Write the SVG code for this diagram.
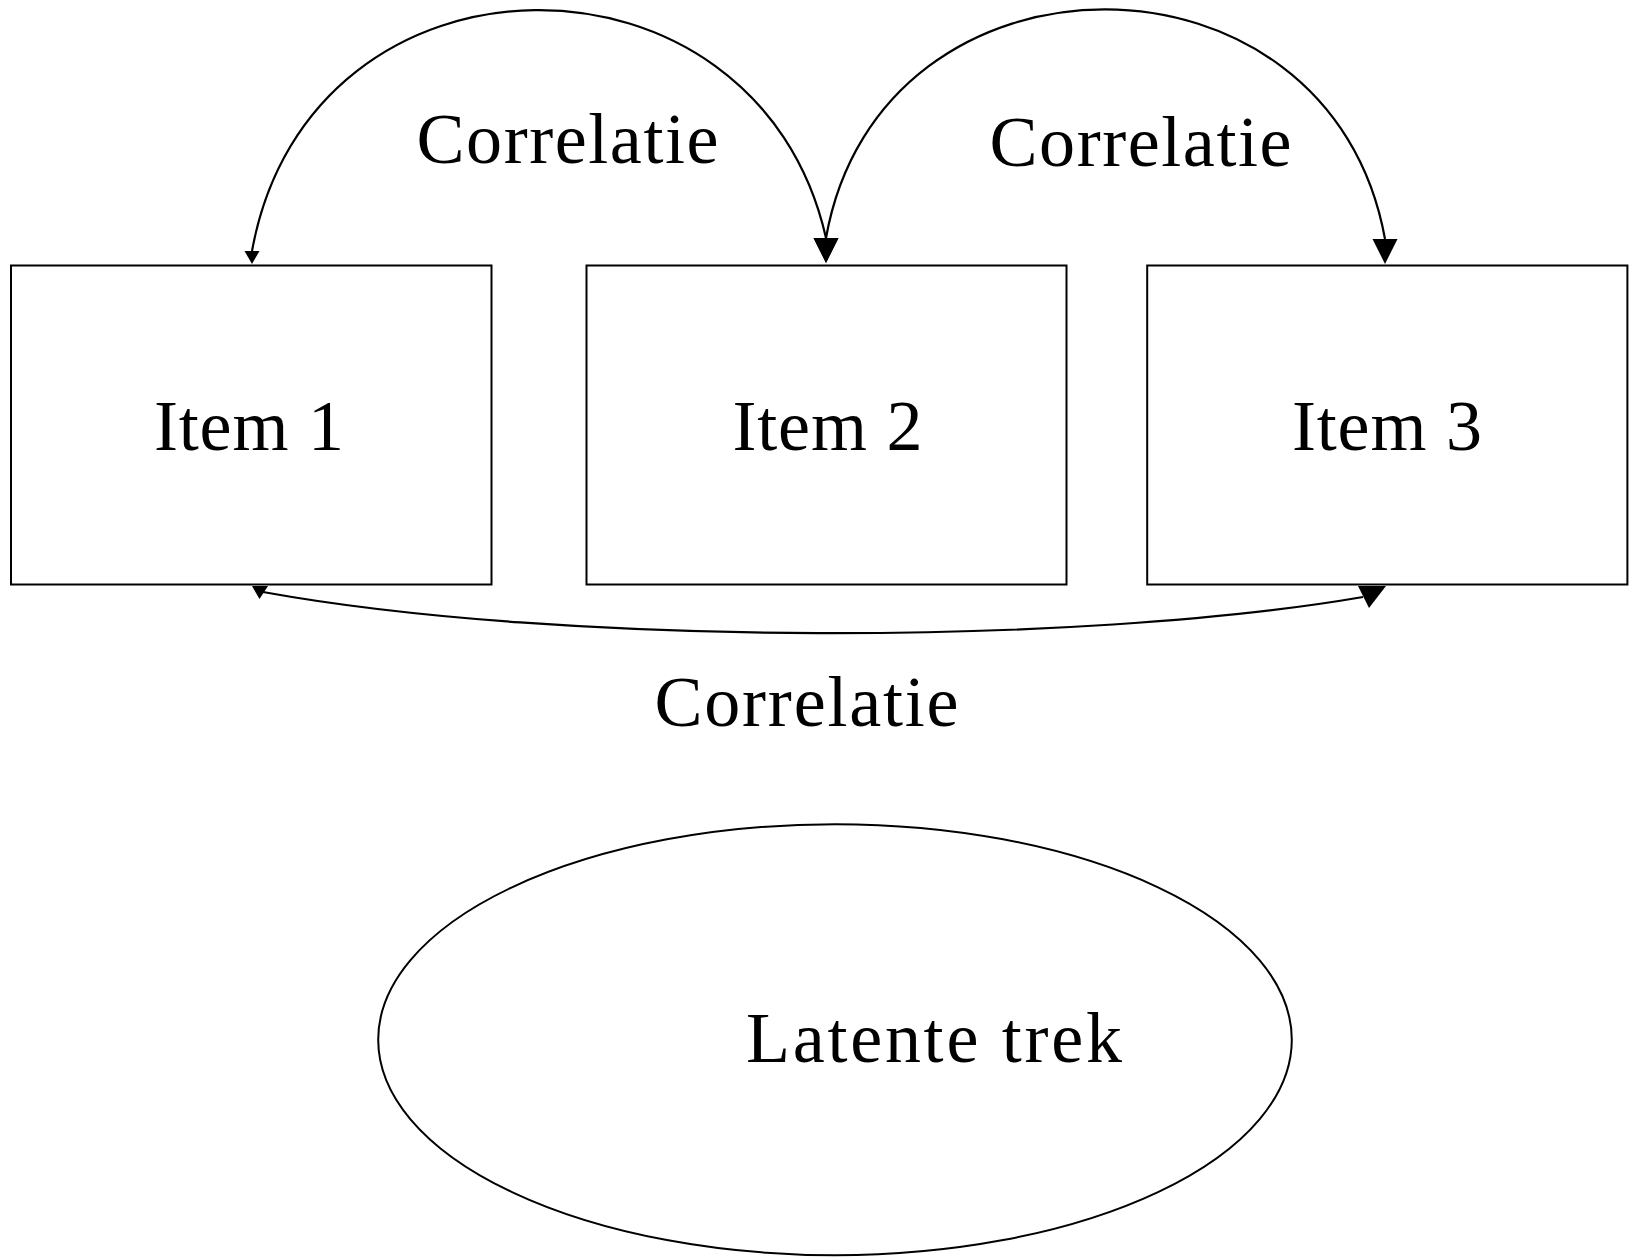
<svg xmlns="http://www.w3.org/2000/svg" width="1634" height="1257" viewBox="0 0 1634 1257">
  <style>
    .box { fill: #ffffff; stroke: #000000; stroke-width: 2; }
    .oval { fill: #ffffff; stroke: #000000; stroke-width: 2; }
    .label { font-family: "Liberation Serif", "DejaVu Serif", serif; font-size: 72px; fill: #000000; }
    .mid { text-anchor: middle; }
    .edge { fill: none; stroke: #000000; stroke-width: 2.2; }
    .head { fill: #000000; stroke: none; }
  </style>
  <defs>
    <!-- arrowheads always point downward; ref point is where the curve meets them -->
    <marker id="head-sm-top" markerUnits="userSpaceOnUse" markerWidth="15" markerHeight="13" viewBox="0 0 15 13" refX="7.5" refY="0" orient="0" overflow="visible">
      <path class="head" d="M0,0 L15,0 L7.5,13 Z"/>
    </marker>
    <marker id="head-lg-top" markerUnits="userSpaceOnUse" markerWidth="25" markerHeight="25" viewBox="0 0 25 25" refX="12.5" refY="0" orient="0" overflow="visible">
      <path class="head" d="M0,0 L25,0 L12.5,25 Z"/>
    </marker>
    <marker id="head-sm-bot" markerUnits="userSpaceOnUse" markerWidth="16" markerHeight="13" viewBox="0 0 16 13" refX="11" refY="6" orient="0" overflow="visible">
      <path class="head" d="M0,0 L16,0 L7.5,13 Z"/>
    </marker>
    <marker id="head-lg-bot" markerUnits="userSpaceOnUse" markerWidth="28" markerHeight="22" viewBox="0 0 28 22" refX="5" refY="11" orient="0" overflow="visible">
      <path class="head" d="M0,0 L28,0 L11,22 Z"/>
    </marker>
  </defs>

  <!-- correlation arcs between the items -->
  <g id="connectors">
    <path class="edge" d="M252,251 C310,-68 757,-68 826,238" marker-start="url(#head-sm-top)" marker-end="url(#head-lg-top)"/>
    <path class="edge" d="M826,238 C880,-67 1330,-67 1385,239" marker-start="url(#head-lg-top)" marker-end="url(#head-lg-top)"/>
    <path class="edge" d="M263,592 C560,646 1079,646 1363,597" marker-start="url(#head-sm-bot)" marker-end="url(#head-lg-bot)"/>
    <text class="label" x="416.5" y="162.5" textLength="302" lengthAdjust="spacing">Correlatie</text>
    <text class="label" x="989.5" y="166" textLength="302" lengthAdjust="spacing">Correlatie</text>
    <text class="label" x="654.5" y="726" textLength="304" lengthAdjust="spacing">Correlatie</text>
  </g>

  <g id="item1">
    <rect class="box" x="11" y="265.5" width="480.5" height="319"/>
    <text class="label mid" x="249" y="450" textLength="190" lengthAdjust="spacing">Item 1</text>
  </g>

  <g id="item2">
    <rect class="box" x="586.5" y="265.5" width="480" height="319"/>
    <text class="label mid" x="827.5" y="450" textLength="190" lengthAdjust="spacing">Item 2</text>
  </g>

  <g id="item3">
    <rect class="box" x="1147.2" y="265.5" width="480.2" height="319"/>
    <text class="label mid" x="1387" y="450" textLength="190" lengthAdjust="spacing">Item 3</text>
  </g>

  <g id="latent">
    <ellipse class="oval" cx="835" cy="1039.7" rx="456.8" ry="215.5"/>
    <text class="label" x="746" y="1062" textLength="376" lengthAdjust="spacing">Latente trek</text>
  </g>
</svg>
